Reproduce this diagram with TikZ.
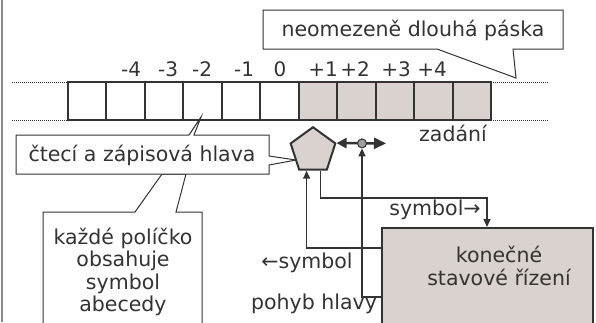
\documentclass[tikz,border=0pt]{standalone}
\usepackage{fontspec}
\setmainfont{DejaVu Sans}
\usetikzlibrary{shapes.geometric,arrows.meta,calc}
\definecolor{ink}{HTML}{333333}
\definecolor{cellgray}{HTML}{D9D2CF}
\definecolor{knobgray}{HTML}{A39C99}
\definecolor{framegray}{HTML}{8A8A8A}
\begin{document}
\begin{tikzpicture}[x=1bp,y=-1bp,
  txt/.style={font=\fontsize{20.5bp}{22.5bp}\selectfont, text=ink, inner sep=0pt},
  num/.style={font=\fontsize{20bp}{20bp}\selectfont, text=ink, inner sep=0pt},
  cell/.style={draw=ink, line width=2bp, minimum width=38.45bp, minimum height=38bp, inner sep=0pt, outer sep=0pt},
  callout/.style={draw=ink, line width=1bp, fill=white, line join=miter},
  conn/.style={draw=ink, line width=1.5bp},
  tip/.style={-{Triangle[length=8bp,width=7bp]}},
  dots/.style={draw=ink, line width=1bp, dash pattern=on 1bp off 1bp},
]
\useasboundingbox (0,0) rectangle (596,322);
\clip (0,0) rectangle (596,322);
\draw[framegray, line width=1.5bp] (2,0) -- (2,322);

% tape
\foreach \i in {1,...,6} \node[cell, fill=white] (t\i) at ({68+38.4545*(\i-0.5)},101) {};
\foreach \i in {7,...,11} \node[cell, fill=cellgray] (t\i) at ({68+38.4545*(\i-0.5)},101) {};
\coordinate (dl) at (12,0);
\coordinate (dr) at (548,0);
\draw[dots] (dl |- t1.north west) -- (t1.north west);
\draw[dots] (dl |- t1.south west) -- (t1.south west);
\draw[dots] (t11.north east) -- (dr |- t11.north east);
\draw[dots] (t11.south east) -- (dr |- t11.south east);

% indices
\node[num] (im4) at (131,69) {-4};
\node[num] (im3) at (168,69) {-3};
\node[num] (im2) at (202,69) {-2};
\node[num] (im1) at (244,69) {-1};
\node[num] (i0)  at (280,69) {0};
\node[num] (ip1) at (323,69) {+1};
\node[num] (ip2) at (355,69) {+2};
\node[num] (ip3) at (396,69) {+3};
\node[num] (ip4) at (432,69) {+4};

% tape callout
\draw[callout] (263,10) -- (563,10) -- (563,49) -- (513,49) -- (516,78) -- (437,49) -- (263,49) -- cycle;
\node[txt] (tapeLbl) at (413,30) {neomezeně dlouhá páska};

\node[txt] (inputLbl) at (453,133) {zadání};

% cell callout (under head callout)
\draw[callout] (43,330) -- (43,212) -- (135,212) -- (162,174) -- (186,174) -- (176,212) -- (202,212) -- (202,330);
\node[txt, align=center] (cellLbl) at (123,272) {každé políčko\\obsahuje\\symbol\\abecedy};

% head callout
\draw[callout] (16,135) -- (189,135) -- (201,117) -- (194,135) -- (269,135) -- (269,156) -- (296,160) -- (269,165) -- (269,174) -- (16,174) -- cycle;
\node[txt] (headLbl) at (142,155) {čtecí a zápisová hlava};

% head
\node[regular polygon, regular polygon sides=5, minimum size=47bp, inner sep=0pt,
      draw=ink, line width=2bp, fill=cellgray] (head) at (313,150.7) {};
\coordinate (hIn) at ($(head.corner 3)!0.28!(head.corner 4)$);
\coordinate (hOut) at ($(head.corner 3)!0.75!(head.corner 4)$);
\coordinate (moveR) at (386,143.4);
\draw[ink, line width=2.5bp, {Triangle[length=10bp,width=10bp]}-{Triangle[length=12bp,width=11bp]}] (head.corner 5) -- (moveR);
\node[circle, draw=ink, fill=knobgray, minimum size=9bp, inner sep=0pt, line width=1bp] (knob) at (362,143.4) {};

% control box
\node[draw=ink, line width=2bp, fill=cellgray, minimum width=211bp, minimum height=115bp,
      anchor=north west, inner sep=0pt] (fsm) at (381,227) {};
\node[txt, align=center] (fsmLbl) at (499,266) {konečné\\stavové řízení};

% connectors
\coordinate (symIn) at (381,248);
\coordinate (movIn) at (381,297);
\coordinate (symOutBend) at (487,198);
\draw[conn, tip] (symIn) -| (hIn);
\draw[conn, tip] (movIn) -| (knob.south);
\draw[conn, tip] (hOut) |- (symOutBend) -- (symOutBend |- fsm.north);

\node[txt] (symOutLbl) at (435,210) {symbol→};
\node[txt] (symInLbl) at (307,263) {←symbol};
\node[txt] (movLbl) at (314,304) {pohyb hlavy};
\end{tikzpicture}
\end{document}
